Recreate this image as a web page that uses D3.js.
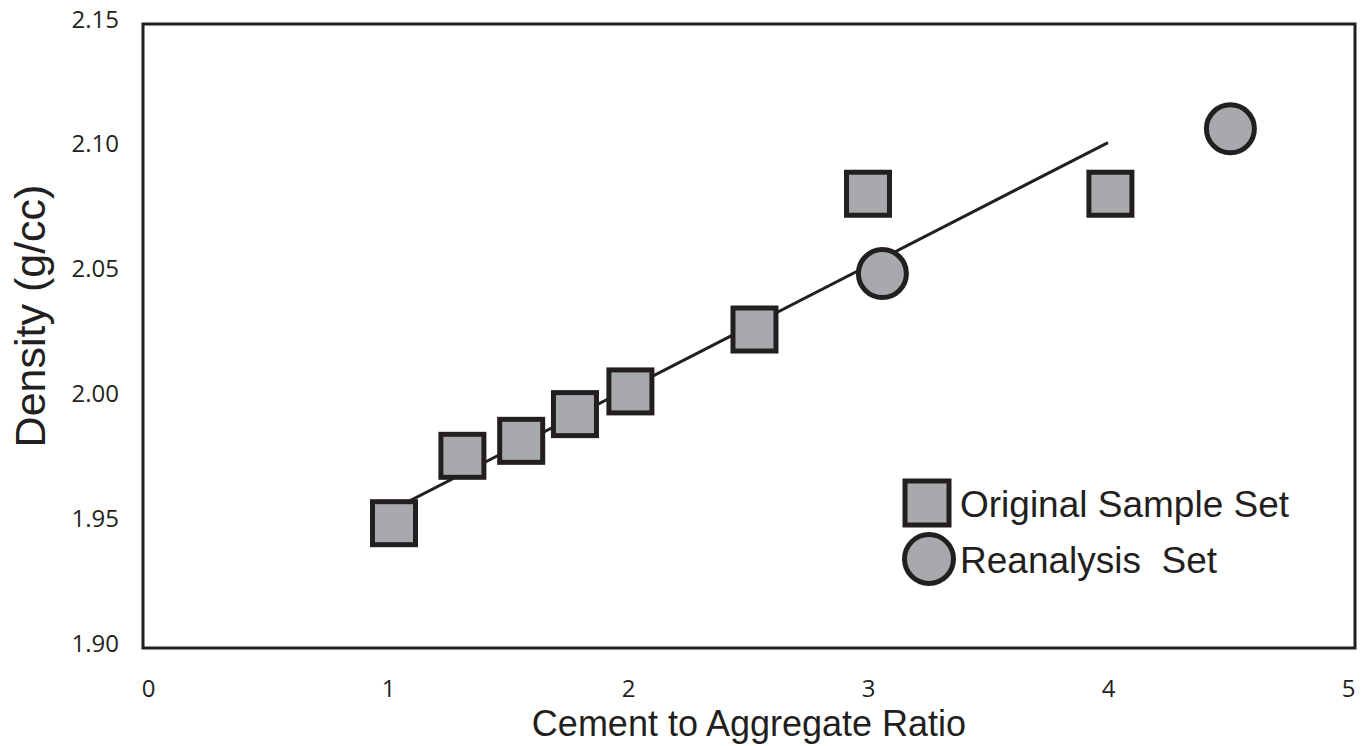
<!DOCTYPE html>
<html>
<head>
<meta charset="utf-8">
<script src="https://cdn.jsdelivr.net/npm/d3@7"></script>
<style>
  body { margin: 0; background: #fff; }
  text { fill: #231f20; }
</style>
</head>
<body>
<script>
//data//
var originalX = [1.025, 1.31, 1.555, 1.779, 2.01, 2.527, 3.0, 4.01];
var originalY = [1.950, 1.977, 1.983, 1.9937, 2.0028, 2.0276, 2.082, 2.082];
var reanalysisX = [3.06, 4.51];
var reanalysisY = [2.050, 2.108];
var trendX = [1, 4];
var trendY = [1.9545, 2.1025];
var xTicks = [0, 1, 2, 3, 4, 5];
var yTicks = [1.90, 1.95, 2.00, 2.05, 2.10, 2.15];
var legendLabels = ["Original Sample Set", "Reanalysis  Set"];

var width = 1365, height = 746;
var ink = "#231f20", grey = "#a7a9ac";

//scales
var x = d3.scaleLinear().domain([0, 5]).range([148, 1348]);
var y = d3.scaleLinear().domain([1.90, 2.15]).range([648, 24]);

var svg = d3.select("body").append("svg")
    .attr("width", width)
    .attr("height", height);

//frame
svg.append("rect")
    .attr("x", 143)
    .attr("y", y(2.15))
    .attr("width", 1355 - 143)
    .attr("height", y(1.90) - y(2.15))
    .attr("fill", "none")
    .attr("stroke", ink)
    .attr("stroke-width", 3);

//axes (labels only, no tick marks)
var xAxis = d3.axisBottom(x).tickValues(xTicks).tickSize(0).tickFormat(d3.format("d"));
var gx = svg.append("g").attr("transform", "translate(0,648)").call(xAxis);
gx.select(".domain").remove();
gx.selectAll("text")
    .attr("y", 0).attr("dy", "49px")
    .style("font-family", "'Open Sans', sans-serif")
    .style("font-size", "24px")
    .attr("fill", ink);

var yAxis = d3.axisLeft(y).tickValues(yTicks).tickSize(0).tickFormat(d3.format(".2f"));
var gy = svg.append("g").attr("transform", "translate(119,0)").call(yAxis);
gy.select(".domain").remove();
gy.selectAll("text")
    .attr("x", 0).attr("dy", "3px")
    .style("font-family", "'Open Sans', sans-serif")
    .style("font-size", "24px")
    .attr("fill", ink);

//axis titles
svg.append("text")
    .attr("x", 749).attr("y", 736)
    .attr("text-anchor", "middle")
    .style("font-family", "'Liberation Sans', Arial, sans-serif")
    .style("font-size", "36px")
    .text("Cement to Aggregate Ratio");

svg.append("text")
    .attr("transform", "translate(45,316) rotate(-90)")
    .attr("text-anchor", "middle")
    .style("font-family", "'Liberation Sans', Arial, sans-serif")
    .style("font-size", "43px")
    .text("Density (g/cc)");

//trend line
var line = d3.line()
    .x(function(d) { return x(d[0]); })
    .y(function(d) { return y(d[1]); });
svg.append("path")
    .datum(d3.zip(trendX, trendY))
    .attr("d", line)
    .attr("fill", "none")
    .attr("stroke", ink)
    .attr("stroke-width", 3);

//square points
var sq = 43;
svg.selectAll(".orig")
    .data(d3.zip(originalX, originalY))
    .enter().append("rect")
    .attr("class", "orig")
    .attr("x", function(d) { return x(d[0]) - sq / 2; })
    .attr("y", function(d) { return y(d[1]) - sq / 2; })
    .attr("width", sq)
    .attr("height", sq)
    .attr("fill", grey)
    .attr("stroke", ink)
    .attr("stroke-width", 5);

//circle points
svg.selectAll(".re")
    .data(d3.zip(reanalysisX, reanalysisY))
    .enter().append("circle")
    .attr("class", "re")
    .attr("cx", function(d) { return x(d[0]); })
    .attr("cy", function(d) { return y(d[1]); })
    .attr("r", 24)
    .attr("fill", grey)
    .attr("stroke", ink)
    .attr("stroke-width", 5);

//legend
var legend = svg.append("g").attr("transform", "translate(927,503)");
legend.append("rect")
    .attr("x", -22).attr("y", -22)
    .attr("width", 44).attr("height", 44)
    .attr("fill", grey).attr("stroke", ink).attr("stroke-width", 5);
legend.append("circle")
    .attr("cx", 2).attr("cy", 56).attr("r", 24.5)
    .attr("fill", grey).attr("stroke", ink).attr("stroke-width", 5);
legend.selectAll(".lab")
    .data(legendLabels)
    .enter().append("text")
    .attr("class", "lab")
    .attr("x", 33)
    .attr("y", function(d, i) { return 14 + i * 56; })
    .attr("xml:space", "preserve")
    .style("white-space", "pre")
    .style("font-family", "'Liberation Sans', Arial, sans-serif")
    .style("font-size", "37px")
    .text(function(d) { return d; });
</script>
</body>
</html>
